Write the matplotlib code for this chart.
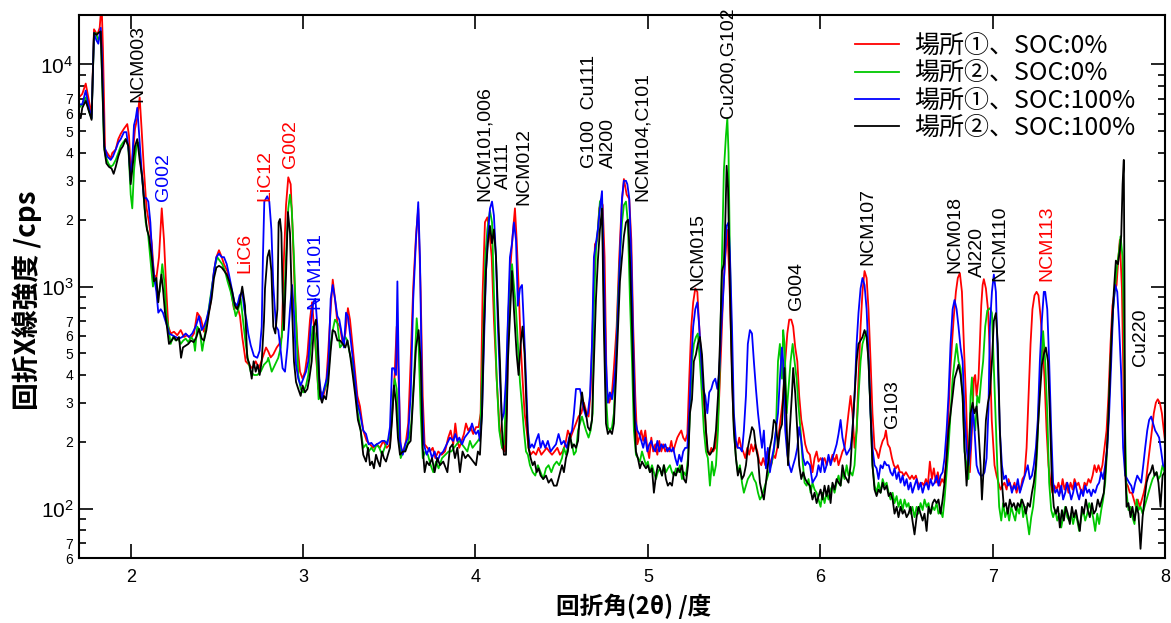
import numpy as np
import matplotlib
matplotlib.use("Agg")
import matplotlib.pyplot as plt
from matplotlib import font_manager as fm
from matplotlib.ticker import FixedLocator, FuncFormatter, NullFormatter

# ---------------- data (2theta [deg], intensity [cps]) ----------------
red_pts = [
(1.700,7106),(1.719,7366),(1.739,8206),(1.758,6855),(1.773,5936),(1.787,14400),(1.806,13600),(1.820,14630),(1.831,19000),(1.839,11750),
(1.851,4142),(1.864,3995),(1.884,3780),(1.893,3995),(1.913,4142),(1.928,4614),(1.942,4870),(1.961,5140),(1.980,5390),(1.990,4783),
(2.000,3300),(2.009,3718),(2.025,5140),(2.038,5726),(2.052,7106),(2.063,5140),(2.077,3337),(2.092,2250),(2.106,1945),(2.122,1567),
(2.135,1133),(2.149,1094),(2.164,1357),(2.180,2250),(2.193,1624),(2.207,947),(2.218,661),(2.232,615),(2.251,626),(2.270,604),
(2.290,637),(2.309,593),(2.328,604),(2.348,583),(2.367,615),(2.386,763),(2.406,723),(2.425,626),(2.444,710),(2.464,850),
(2.483,1175),(2.497,1357),(2.512,1458),(2.528,1357),(2.541,1262),(2.560,1175),(2.580,981),(2.599,791),(2.618,820),(2.634,736),
(2.647,593),(2.667,461),(2.686,445),(2.705,429),(2.725,461),(2.744,429),(2.785,532),(2.798,510),(2.812,480),(2.827,495),
(2.847,532),(2.862,552),(2.876,593),(2.889,1357),(2.901,2328),(2.914,3105),(2.928,2890),(2.939,1809),(2.953,881),(2.967,552),
(2.982,414),(2.997,385),(3.011,414),(3.025,495),(3.040,710),(3.052,850),(3.063,661),(3.075,495),(3.088,346),(3.104,334),
(3.117,322),(3.133,359),(3.146,514),(3.160,791),(3.172,1075),(3.185,881),(3.199,685),(3.214,661),(3.230,552),(3.245,615),
(3.260,800),(3.272,710),(3.288,532),(3.303,400),(3.315,322),(3.330,289),(3.349,225),(3.369,202),(3.388,195),(3.407,188),
(3.427,195),(3.446,188),(3.465,202),(3.485,188),(3.504,195),(3.520,289),(3.531,400),(3.543,661),(3.554,385),(3.566,188),
(3.581,181),(3.597,202),(3.610,242),(3.624,461),(3.639,1000),(3.655,1700),(3.668,2246),(3.682,947),(3.694,322),(3.705,195),
(3.721,188),(3.736,181),(3.752,188),(3.767,169),(3.784,181),(3.804,175),(3.823,181),(3.842,209),(3.856,225),(3.871,195),
(3.883,242),(3.895,202),(3.906,188),(3.920,202),(3.933,217),(3.945,242),(3.958,225),(3.972,233),(3.987,217),(4.003,233),
(4.018,233),(4.030,269),(4.041,913),(4.055,1950),(4.069,2050),(4.080,1809),(4.094,1357),(4.107,710),(4.123,385),(4.138,242),
(4.154,188),(4.169,181),(4.181,269),(4.192,763),(4.204,1262),(4.215,1684),(4.229,2250),(4.239,1624),(4.250,1017),(4.262,552),
(4.273,385),(4.285,269),(4.297,225),(4.308,188),(4.320,175),(4.335,181),(4.351,175),(4.366,188),(4.382,175),(4.397,181),
(4.413,188),(4.428,181),(4.444,175),(4.459,181),(4.475,188),(4.490,175),(4.505,181),(4.521,195),(4.536,225),(4.552,209),
(4.567,225),(4.583,242),(4.598,260),(4.614,269),(4.629,300),(4.645,269),(4.656,260),(4.668,334),(4.680,661),(4.693,1550),
(4.707,1624),(4.718,2250),(4.730,2414),(4.738,2328),(4.749,1357),(4.761,346),(4.776,300),(4.792,334),(4.803,429),(4.819,661),
(4.834,1357),(4.848,2328),(4.861,3050),(4.877,2594),(4.892,2480),(4.904,1624),(4.915,661),(4.927,322),(4.939,195),(4.950,209),
(4.962,225),(4.973,202),(4.985,225),(4.997,188),(5.008,169),(5.020,209),(5.031,181),(5.043,195),(5.055,175),(5.066,202),
(5.078,181),(5.089,195),(5.101,181),(5.113,188),(5.124,181),(5.136,202),(5.147,181),(5.159,195),(5.171,209),(5.182,217),
(5.194,225),(5.205,209),(5.217,202),(5.229,217),(5.240,385),(5.252,661),(5.263,850),(5.275,980),(5.287,947),(5.298,661),
(5.310,461),(5.321,322),(5.333,251),(5.345,181),(5.356,175),(5.368,188),(5.379,181),(5.391,188),(5.403,225),(5.414,322),
(5.426,552),(5.437,947),(5.449,1357),(5.461,1800),(5.472,1133),(5.484,552),(5.495,269),(5.507,202),(5.519,188),(5.530,209),
(5.542,188),(5.553,181),(5.565,169),(5.577,188),(5.588,175),(5.600,195),(5.611,181),(5.623,195),(5.635,181),(5.646,163),
(5.658,157),(5.669,169),(5.681,157),(5.693,181),(5.704,169),(5.716,157),(5.727,175),(5.739,169),(5.751,188),(5.762,225),
(5.774,269),(5.785,322),(5.797,461),(5.809,615),(5.820,710),(5.832,710),(5.843,661),(5.855,532),(5.867,461),(5.878,322),
(5.890,251),(5.901,225),(5.913,195),(5.925,181),(5.940,175),(5.955,146),(5.967,169),(5.979,181),(5.990,163),(6.002,169),
(6.013,163),(6.025,169),(6.037,157),(6.048,169),(6.060,163),(6.071,175),(6.083,163),(6.095,175),(6.106,157),(6.118,169),
(6.129,181),(6.141,188),(6.153,225),(6.164,269),(6.176,322),(6.187,269),(6.199,188),(6.211,225),(6.222,385),(6.234,661),
(6.245,947),(6.257,1175),(6.269,1093),(6.280,791),(6.292,461),(6.303,269),(6.315,188),(6.327,181),(6.338,169),(6.350,188),
(6.362,202),(6.373,209),(6.381,225),(6.392,195),(6.404,188),(6.416,169),(6.427,157),(6.439,152),(6.450,157),(6.462,146),
(6.474,146),(6.485,141),(6.497,146),(6.508,141),(6.520,136),(6.532,141),(6.543,136),(6.555,141),(6.566,131),(6.578,127),
(6.590,131),(6.601,127),(6.613,136),(6.624,127),(6.636,163),(6.648,136),(6.659,152),(6.671,131),(6.682,146),(6.694,127),
(6.706,136),(6.717,131),(6.729,157),(6.740,225),(6.752,385),(6.764,552),(6.775,736),(6.787,947),(6.798,1093),(6.810,1150),
(6.822,947),(6.833,552),(6.845,322),(6.857,157),(6.868,146),(6.880,225),(6.891,385),(6.899,400),(6.907,322),(6.918,385),
(6.926,552),(6.934,820),(6.942,1017),(6.949,1080),(6.961,981),(6.973,791),(6.984,500),(6.995,250),(7.011,157),(7.023,141),
(7.034,131),(7.046,122),(7.057,127),(7.069,131),(7.081,122),(7.092,136),(7.104,127),(7.115,122),(7.127,131),(7.139,118),
(7.150,127),(7.162,122),(7.173,136),(7.185,141),(7.197,188),(7.208,311),(7.220,552),(7.231,791),(7.243,913),(7.255,947),
(7.266,913),(7.278,736),(7.290,552),(7.301,385),(7.313,225),(7.324,157),(7.336,131),(7.347,118),(7.359,127),(7.371,122),
(7.382,131),(7.394,118),(7.406,136),(7.417,122),(7.429,131),(7.440,118),(7.452,131),(7.464,122),(7.475,136),(7.487,127),
(7.498,131),(7.510,122),(7.522,118),(7.533,131),(7.545,127),(7.556,136),(7.568,131),(7.580,141),(7.591,157),(7.603,146),
(7.614,157),(7.626,146),(7.637,157),(7.649,188),(7.661,225),(7.672,322),(7.684,552),(7.695,820),(7.707,947),(7.719,1017),
(7.730,1357),(7.738,1624),(7.750,981),(7.761,300),(7.773,131),(7.784,127),(7.796,118),(7.808,118),(7.819,110),(7.831,102),
(7.842,110),(7.854,102),(7.866,110),(7.877,118),(7.889,131),(7.900,157),(7.912,188),(7.924,225),(7.935,269),(7.947,300),
(7.958,311),(7.970,300),(7.982,269),(7.993,225),(8.005,188)]

green_pts = [
(1.700,6379),(1.719,6612),(1.739,7106),(1.758,6153),(1.773,5726),(1.787,13600),(1.797,13860),(1.812,12860),(1.826,13860),(1.835,8206),
(1.845,4293),(1.855,3854),(1.870,3586),(1.884,3460),(1.897,3523),(1.913,3718),(1.928,3995),(1.942,4293),(1.955,4451),(1.971,4614),
(1.986,4293),(2.000,2594),(2.009,2250),(2.019,3337),(2.033,4293),(2.044,4451),(2.058,3586),(2.071,2787),(2.087,1945),(2.100,1745),
(2.116,1290),(2.129,1000),(2.141,1093),(2.154,930),(2.168,947),(2.183,1262),(2.195,1055),(2.207,736),(2.218,661),(2.232,552),
(2.245,593),(2.261,572),(2.276,583),(2.290,552),(2.305,572),(2.319,583),(2.334,562),(2.350,593),(2.365,572),(2.373,514),
(2.386,661),(2.400,637),(2.415,514),(2.431,615),(2.444,710),(2.458,850),(2.473,1017),(2.489,1240),(2.502,1357),(2.516,1309),
(2.531,1262),(2.547,1175),(2.562,1055),(2.580,947),(2.593,850),(2.609,736),(2.624,791),(2.638,881),(2.651,710),(2.667,552),
(2.682,461),(2.696,414),(2.715,400),(2.734,400),(2.754,414),(2.773,445),(2.792,461),(2.798,478),(2.818,414),(2.837,445),
(2.856,478),(2.870,532),(2.885,710),(2.901,1357),(2.914,2246),(2.924,2594),(2.934,2246),(2.947,1357),(2.959,710),(2.972,400),
(2.986,346),(3.001,334),(3.017,359),(3.030,400),(3.044,532),(3.056,661),(3.067,615),(3.079,461),(3.090,311),(3.104,322),
(3.117,334),(3.133,359),(3.146,400),(3.160,552),(3.172,637),(3.185,710),(3.199,685),(3.214,532),(3.230,552),(3.245,593),
(3.257,572),(3.272,495),(3.288,445),(3.303,346),(3.318,269),(3.334,225),(3.349,188),(3.365,195),(3.380,181),(3.396,188),
(3.411,181),(3.427,195),(3.442,188),(3.458,175),(3.473,188),(3.489,202),(3.504,209),(3.520,300),(3.531,385),(3.543,346),
(3.554,225),(3.566,169),(3.581,181),(3.597,188),(3.612,202),(3.628,242),(3.643,385),(3.659,720),(3.670,552),(3.682,269),
(3.694,169),(3.709,181),(3.724,175),(3.740,157),(3.755,146),(3.771,163),(3.786,152),(3.806,169),(3.825,175),(3.844,181),
(3.860,181),(3.875,188),(3.891,195),(3.906,202),(3.922,195),(3.937,188),(3.953,181),(3.968,202),(3.983,188),(3.999,195),
(4.014,202),(4.026,209),(4.041,461),(4.057,1357),(4.069,1809),(4.084,2200),(4.096,1945),(4.107,947),(4.123,385),(4.138,225),
(4.154,188),(4.165,195),(4.177,311),(4.188,661),(4.200,1093),(4.212,1262),(4.223,1017),(4.235,791),(4.246,552),(4.258,372),
(4.270,289),(4.281,225),(4.293,181),(4.304,175),(4.316,157),(4.332,146),(4.347,141),(4.362,157),(4.378,146),(4.393,136),
(4.409,152),(4.424,157),(4.440,146),(4.455,157),(4.471,163),(4.486,157),(4.502,169),(4.513,188),(4.525,175),(4.536,188),
(4.548,209),(4.560,195),(4.571,175),(4.583,181),(4.595,225),(4.606,242),(4.618,260),(4.629,242),(4.641,225),(4.656,209),
(4.668,225),(4.680,269),(4.687,820),(4.699,1458),(4.710,1809),(4.722,2414),(4.734,2502),(4.745,881),(4.757,322),(4.768,233),
(4.780,225),(4.792,233),(4.803,269),(4.815,461),(4.827,881),(4.838,1357),(4.850,1945),(4.861,2328),(4.873,2414),(4.884,1945),
(4.896,881),(4.908,461),(4.919,225),(4.931,175),(4.942,169),(4.954,163),(4.966,181),(4.977,169),(4.989,157),(5.000,163),
(5.012,146),(5.024,157),(5.035,146),(5.047,136),(5.058,146),(5.070,152),(5.082,141),(5.093,157),(5.105,146),(5.116,152),
(5.128,157),(5.140,146),(5.151,141),(5.163,152),(5.174,146),(5.186,157),(5.198,136),(5.209,146),(5.221,141),(5.233,169),
(5.244,269),(5.256,461),(5.267,552),(5.279,593),(5.290,615),(5.302,461),(5.314,322),(5.325,225),(5.337,181),(5.348,169),
(5.360,127),(5.372,163),(5.383,141),(5.395,157),(5.407,225),(5.418,461),(5.430,1357),(5.441,3337),(5.453,4783),(5.461,5726),
(5.468,3995),(5.476,1357),(5.488,461),(5.499,225),(5.511,169),(5.522,146),(5.534,157),(5.546,131),(5.557,118),(5.569,127),
(5.580,136),(5.592,141),(5.604,146),(5.615,136),(5.627,131),(5.639,118),(5.650,110),(5.662,114),(5.673,122),(5.685,131),
(5.696,141),(5.708,152),(5.720,163),(5.731,181),(5.743,225),(5.755,461),(5.766,552),(5.778,385),(5.785,637),(5.793,552),
(5.805,269),(5.816,346),(5.828,461),(5.840,552),(5.851,461),(5.863,385),(5.874,289),(5.886,225),(5.898,163),(5.909,131),
(5.921,127),(5.932,136),(5.944,118),(5.955,131),(5.967,122),(5.979,118),(5.990,110),(6.002,102),(6.013,118),(6.025,106),
(6.037,118),(6.048,110),(6.060,122),(6.071,127),(6.083,118),(6.095,131),(6.106,141),(6.118,127),(6.129,146),(6.141,136),
(6.153,157),(6.164,141),(6.176,146),(6.187,141),(6.199,157),(6.211,225),(6.222,322),(6.234,461),(6.245,552),(6.257,593),
(6.269,630),(6.280,461),(6.292,269),(6.303,157),(6.315,127),(6.327,118),(6.338,131),(6.350,118),(6.362,136),(6.373,127),
(6.385,131),(6.397,118),(6.408,110),(6.420,118),(6.431,106),(6.443,114),(6.454,102),(6.466,110),(6.478,98.6),(6.489,110),
(6.501,102),(6.512,106),(6.524,95),(6.535,102),(6.547,91.6),(6.559,102),(6.570,95),(6.582,106),(6.594,98.6),(6.605,110),
(6.617,102),(6.628,106),(6.640,95),(6.652,102),(6.663,98.6),(6.675,106),(6.686,95),(6.698,98.6),(6.710,91.6),(6.721,110),
(6.733,146),(6.744,188),(6.756,269),(6.768,385),(6.779,461),(6.791,552),(6.802,461),(6.814,429),(6.826,322),(6.837,181),
(6.849,157),(6.860,136),(6.872,322),(6.880,390),(6.887,269),(6.899,225),(6.911,322),(6.922,300),(6.934,385),(6.945,461),
(6.957,661),(6.969,780),(6.985,800),(6.996,760),(7.013,322),(7.027,157),(7.038,102),(7.050,88.4),(7.061,106),(7.073,91.6),
(7.085,98.6),(7.096,88.4),(7.108,102),(7.119,95),(7.131,88.4),(7.143,102),(7.154,95),(7.166,110),(7.177,91.6),(7.189,102),
(7.201,88.4),(7.212,76.6),(7.224,91.6),(7.235,102),(7.247,127),(7.259,188),(7.270,322),(7.282,461),(7.293,630),(7.305,461),
(7.317,269),(7.328,131),(7.340,98.6),(7.351,91.6),(7.363,98.6),(7.375,88.4),(7.386,95),(7.398,82.3),(7.409,91.6),(7.421,102),
(7.433,91.6),(7.444,88.4),(7.456,95),(7.467,85.3),(7.479,95),(7.491,88.4),(7.502,79.4),(7.514,91.6),(7.525,98.6),(7.537,88.4),
(7.549,95),(7.560,106),(7.572,98.6),(7.583,91.6),(7.595,79.4),(7.607,95),(7.618,85.3),(7.630,98.6),(7.641,110),(7.653,131),
(7.665,188),(7.676,322),(7.688,552),(7.699,791),(7.711,1017),(7.723,1262),(7.734,1458),(7.742,1684),(7.754,1357),(7.761,661),
(7.769,225),(7.777,118),(7.788,98.6),(7.800,102),(7.811,91.6),(7.823,85.3),(7.835,110),(7.846,98.6),(7.858,102),(7.870,95),
(7.881,102),(7.893,110),(7.904,118),(7.916,127),(7.928,136),(7.939,141),(7.951,146),(7.962,136),(7.974,141),(7.986,157),
(7.997,146),(8.005,150)]

blue_pts = [
(1.700,6612),(1.719,6612),(1.739,7636),(1.758,6379),(1.773,5726),(1.787,13860),(1.801,12860),(1.812,12400),(1.826,14630),(1.835,10000),
(1.847,4293),(1.864,3854),(1.884,3718),(1.897,3854),(1.913,4142),(1.928,4451),(1.942,4614),(1.961,4958),(1.975,4958),(1.990,3995),
(2.000,3000),(2.009,3718),(2.019,5328),(2.029,5726),(2.038,6379),(2.048,4958),(2.063,3337),(2.077,2502),(2.091,2502),(2.102,2414),
(2.114,1945),(2.125,1357),(2.137,1093),(2.149,947),(2.160,763),(2.174,791),(2.187,763),(2.199,710),(2.212,661),(2.222,615),
(2.241,604),(2.261,593),(2.280,583),(2.299,593),(2.319,615),(2.338,593),(2.357,615),(2.377,661),(2.396,736),(2.412,637),
(2.425,661),(2.439,710),(2.454,791),(2.469,947),(2.483,1175),(2.497,1357),(2.512,1406),(2.528,1357),(2.541,1357),(2.557,1262),
(2.570,1133),(2.586,981),(2.601,850),(2.618,820),(2.632,913),(2.647,947),(2.659,791),(2.671,710),(2.682,615),(2.696,545),
(2.715,487),(2.734,478),(2.748,514),(2.760,661),(2.767,1357),(2.775,2414),(2.792,2550),(2.804,2414),(2.816,1809),(2.827,1017),
(2.843,661),(2.856,637),(2.870,514),(2.881,429),(2.895,414),(2.909,532),(2.924,791),(2.936,1017),(2.947,763),(2.959,445),
(2.972,385),(2.986,359),(3.001,385),(3.017,414),(3.030,461),(3.044,661),(3.059,850),(3.071,881),(3.083,661),(3.094,385),
(3.108,311),(3.121,346),(3.137,385),(3.148,461),(3.160,881),(3.172,1017),(3.185,881),(3.199,736),(3.210,710),(3.224,615),
(3.237,532),(3.249,763),(3.260,736),(3.272,615),(3.288,478),(3.303,372),(3.315,300),(3.330,269),(3.349,225),(3.365,217),
(3.380,195),(3.396,198),(3.411,191),(3.427,195),(3.442,198),(3.458,202),(3.473,202),(3.489,195),(3.504,233),(3.516,429),
(3.527,429),(3.539,400),(3.547,1055),(3.554,461),(3.562,202),(3.578,175),(3.593,195),(3.608,209),(3.624,322),(3.639,881),
(3.655,1624),(3.668,2400),(3.678,1357),(3.690,322),(3.701,195),(3.717,175),(3.732,188),(3.748,169),(3.763,181),(3.779,163),
(3.794,175),(3.813,181),(3.833,195),(3.852,209),(3.871,202),(3.883,217),(3.895,202),(3.906,209),(3.922,195),(3.937,209),
(3.953,217),(3.968,225),(3.980,242),(3.991,225),(4.003,217),(4.016,225),(4.026,202),(4.038,269),(4.049,552),(4.061,1175),
(4.072,1684),(4.084,2246),(4.096,2414),(4.107,2090),(4.119,1357),(4.130,661),(4.142,385),(4.154,251),(4.165,269),(4.177,385),
(4.188,710),(4.200,1357),(4.212,1567),(4.223,1945),(4.235,1624),(4.246,820),(4.258,981),(4.270,1017),(4.281,661),(4.293,385),
(4.304,225),(4.316,188),(4.328,195),(4.339,188),(4.351,202),(4.366,217),(4.378,188),(4.390,202),(4.405,188),(4.420,202),
(4.436,181),(4.451,188),(4.467,195),(4.482,217),(4.498,195),(4.513,202),(4.529,188),(4.544,209),(4.560,225),(4.571,269),
(4.583,346),(4.595,346),(4.606,346),(4.618,311),(4.629,279),(4.641,260),(4.652,269),(4.664,322),(4.676,552),(4.687,1357),
(4.699,1567),(4.710,1809),(4.722,2246),(4.734,2689),(4.745,1175),(4.757,461),(4.768,300),(4.780,334),(4.792,311),(4.803,359),
(4.815,461),(4.827,791),(4.838,1357),(4.850,2502),(4.861,2995),(4.873,2995),(4.881,2890),(4.892,2502),(4.904,1357),(4.915,552),
(4.927,251),(4.939,225),(4.950,217),(4.962,202),(4.973,188),(4.985,209),(4.997,181),(5.008,195),(5.020,202),(5.031,188),
(5.043,181),(5.055,202),(5.066,181),(5.078,195),(5.089,188),(5.101,195),(5.113,181),(5.124,188),(5.136,181),(5.147,188),
(5.159,169),(5.171,157),(5.182,175),(5.194,163),(5.205,181),(5.217,188),(5.229,188),(5.240,269),(5.252,461),(5.263,661),
(5.275,791),(5.287,850),(5.298,661),(5.310,461),(5.321,346),(5.333,322),(5.345,269),(5.356,334),(5.368,346),(5.379,372),
(5.391,385),(5.403,346),(5.414,414),(5.426,661),(5.437,913),(5.449,1406),(5.457,1876),(5.468,1945),(5.476,1406),(5.488,661),
(5.499,269),(5.511,202),(5.522,188),(5.534,188),(5.546,181),(5.557,225),(5.569,322),(5.580,552),(5.592,637),(5.604,615),
(5.615,461),(5.627,346),(5.639,269),(5.650,225),(5.662,188),(5.673,225),(5.685,152),(5.696,188),(5.708,146),(5.720,169),
(5.731,188),(5.743,225),(5.755,269),(5.766,385),(5.778,532),(5.785,461),(5.797,225),(5.809,175),(5.820,157),(5.832,146),
(5.843,157),(5.855,169),(5.867,188),(5.878,233),(5.890,202),(5.901,169),(5.913,157),(5.925,163),(5.940,157),(5.955,131),
(5.967,136),(5.979,141),(5.990,157),(6.002,146),(6.013,169),(6.025,146),(6.037,157),(6.048,175),(6.060,157),(6.071,169),
(6.083,181),(6.095,195),(6.106,217),(6.118,251),(6.129,209),(6.141,188),(6.153,175),(6.164,181),(6.176,188),(6.187,225),
(6.199,322),(6.211,552),(6.222,763),(6.234,981),(6.245,1093),(6.257,1017),(6.269,791),(6.280,495),(6.292,269),(6.303,188),
(6.315,157),(6.327,152),(6.338,136),(6.350,157),(6.362,152),(6.373,163),(6.385,157),(6.397,157),(6.408,146),(6.420,141),
(6.431,152),(6.443,136),(6.454,146),(6.466,131),(6.478,141),(6.489,127),(6.501,136),(6.512,122),(6.524,131),(6.535,118),
(6.547,127),(6.559,136),(6.570,122),(6.582,131),(6.594,118),(6.605,127),(6.617,131),(6.628,122),(6.640,136),(6.652,127),
(6.663,131),(6.675,141),(6.686,127),(6.698,141),(6.710,146),(6.721,169),(6.733,225),(6.744,322),(6.756,552),(6.768,791),
(6.779,870),(6.791,791),(6.802,661),(6.814,532),(6.826,461),(6.837,269),(6.849,188),(6.860,157),(6.872,188),(6.884,290),
(6.895,225),(6.907,157),(6.918,146),(6.930,141),(6.942,141),(6.953,146),(6.965,169),(6.976,280),(6.984,661),(6.996,947),
(7.007,1133),(7.019,947),(7.030,461),(7.042,225),(7.054,157),(7.065,136),(7.077,141),(7.088,127),(7.100,131),(7.112,118),
(7.123,127),(7.135,122),(7.146,136),(7.158,118),(7.170,127),(7.181,136),(7.193,146),(7.204,157),(7.216,136),(7.228,141),
(7.239,157),(7.251,188),(7.262,251),(7.274,461),(7.286,710),(7.297,947),(7.305,947),(7.317,791),(7.328,461),(7.340,225),
(7.351,131),(7.363,118),(7.375,122),(7.386,114),(7.398,127),(7.409,110),(7.421,118),(7.433,131),(7.444,122),(7.456,110),
(7.467,118),(7.479,131),(7.491,118),(7.502,110),(7.514,122),(7.525,114),(7.537,127),(7.549,118),(7.560,122),(7.572,114),
(7.583,122),(7.595,118),(7.607,127),(7.618,131),(7.630,146),(7.641,136),(7.653,157),(7.665,188),(7.676,269),(7.688,461),
(7.699,791),(7.711,1017),(7.723,947),(7.734,661),(7.746,400),(7.757,188),(7.769,141),(7.781,136),(7.792,131),(7.804,127),
(7.815,118),(7.827,131),(7.839,141),(7.850,136),(7.862,131),(7.874,157),(7.885,188),(7.897,225),(7.908,251),(7.920,260),
(7.931,242),(7.943,225),(7.955,217),(7.966,209),(7.978,181),(7.989,157),(8.001,152)]

black_pts = [
(1.700,5936),(1.710,5726),(1.719,6379),(1.739,6855),(1.758,6153),(1.773,5630),(1.787,13860),(1.801,13600),(1.812,13860),(1.826,14100),
(1.835,8206),(1.847,4142),(1.859,3586),(1.874,3460),(1.889,3400),(1.901,3219),(1.913,3460),(1.928,3854),(1.942,4142),(1.955,4293),
(1.971,4614),(1.986,4293),(2.000,2890),(2.013,3586),(2.025,4293),(2.038,4614),(2.052,3718),(2.067,3105),(2.081,2246),(2.094,1809),
(2.106,1684),(2.122,1357),(2.135,1055),(2.149,1093),(2.160,850),(2.168,981),(2.178,1133),(2.187,981),(2.199,763),(2.210,661),
(2.222,552),(2.237,572),(2.251,593),(2.265,572),(2.280,593),(2.292,478),(2.303,532),(2.319,542),(2.334,552),(2.350,572),
(2.365,562),(2.381,593),(2.396,645),(2.412,583),(2.425,572),(2.439,637),(2.454,763),(2.469,881),(2.483,1093),(2.497,1218),
(2.512,1240),(2.528,1218),(2.543,1175),(2.557,1133),(2.572,1055),(2.589,947),(2.605,820),(2.618,791),(2.632,850),(2.647,1000),
(2.663,820),(2.676,478),(2.690,445),(2.702,385),(2.713,461),(2.725,414),(2.736,445),(2.748,400),(2.760,461),(2.773,700),
(2.779,981),(2.793,1357),(2.804,1458),(2.816,1175),(2.827,661),(2.839,615),(2.851,791),(2.858,1945),(2.866,2016),(2.874,1745),
(2.881,947),(2.889,637),(2.901,1133),(2.912,2166),(2.924,1745),(2.936,791),(2.947,461),(2.959,372),(2.972,346),(2.986,322),
(2.997,359),(3.011,334),(3.025,346),(3.036,385),(3.050,461),(3.063,661),(3.075,710),(3.086,514),(3.098,322),(3.110,300),
(3.121,322),(3.133,311),(3.146,372),(3.160,514),(3.172,637),(3.185,626),(3.199,572),(3.214,572),(3.230,552),(3.245,532),
(3.257,572),(3.272,495),(3.288,400),(3.303,322),(3.318,251),(3.334,225),(3.349,175),(3.365,163),(3.377,188),(3.388,157),
(3.400,163),(3.411,152),(3.423,175),(3.435,163),(3.446,155),(3.458,181),(3.469,169),(3.481,163),(3.492,175),(3.504,188),
(3.516,251),(3.527,359),(3.539,300),(3.550,209),(3.562,175),(3.578,181),(3.593,181),(3.608,195),(3.624,202),(3.639,322),
(3.655,532),(3.670,637),(3.682,461),(3.694,188),(3.705,146),(3.717,163),(3.732,157),(3.748,169),(3.763,146),(3.779,169),
(3.794,157),(3.813,163),(3.837,146),(3.852,188),(3.867,195),(3.881,169),(3.895,188),(3.910,146),(3.925,181),(3.941,169),
(3.956,175),(3.972,169),(3.987,163),(4.003,157),(4.014,181),(4.026,175),(4.038,269),(4.049,637),(4.061,1175),(4.072,1567),
(4.084,1876),(4.096,1567),(4.107,1809),(4.119,1357),(4.130,791),(4.142,461),(4.154,225),(4.165,175),(4.177,175),(4.188,461),
(4.200,736),(4.212,1175),(4.223,791),(4.239,495),(4.250,400),(4.262,552),(4.273,661),(4.285,495),(4.297,269),(4.308,188),
(4.320,169),(4.332,157),(4.343,163),(4.355,146),(4.366,152),(4.378,141),(4.393,136),(4.409,141),(4.424,131),(4.440,136),
(4.455,127),(4.471,127),(4.486,141),(4.502,157),(4.513,146),(4.525,169),(4.536,181),(4.548,217),(4.560,188),(4.571,195),
(4.583,188),(4.595,202),(4.606,269),(4.618,334),(4.629,289),(4.641,269),(4.652,233),(4.664,225),(4.676,251),(4.687,461),
(4.699,881),(4.710,1309),(4.722,1809),(4.734,2246),(4.745,637),(4.757,242),(4.768,217),(4.780,225),(4.792,217),(4.803,242),
(4.815,385),(4.827,661),(4.838,1055),(4.850,1357),(4.861,1684),(4.873,1945),(4.885,2000),(4.896,1357),(4.908,661),(4.919,300),
(4.931,181),(4.942,169),(4.954,152),(4.966,163),(4.977,157),(4.989,152),(5.000,157),(5.012,146),(5.024,152),(5.035,118),
(5.047,141),(5.058,157),(5.070,152),(5.082,141),(5.093,157),(5.105,136),(5.116,127),(5.128,131),(5.140,127),(5.151,146),
(5.163,141),(5.174,152),(5.186,146),(5.198,157),(5.209,136),(5.221,131),(5.233,157),(5.244,269),(5.256,311),(5.267,461),
(5.279,495),(5.290,552),(5.302,593),(5.314,495),(5.325,346),(5.337,225),(5.348,181),(5.360,175),(5.372,181),(5.383,188),
(5.395,225),(5.407,322),(5.418,552),(5.430,1175),(5.441,1262),(5.449,1945),(5.457,3500),(5.465,2787),(5.476,981),(5.488,385),
(5.499,225),(5.511,169),(5.522,141),(5.534,152),(5.546,136),(5.557,141),(5.569,157),(5.580,188),(5.592,209),(5.604,233),
(5.615,225),(5.627,188),(5.639,169),(5.650,131),(5.662,118),(5.673,110),(5.685,131),(5.696,157),(5.708,188),(5.720,209),
(5.731,251),(5.743,242),(5.755,188),(5.766,225),(5.778,240),(5.793,430),(5.801,300),(5.813,157),(5.824,230),(5.836,330),
(5.843,430),(5.855,330),(5.867,225),(5.878,157),(5.890,136),(5.901,146),(5.913,136),(5.925,131),(5.940,127),(5.955,110),
(5.967,118),(5.979,106),(5.990,114),(6.002,122),(6.013,110),(6.025,127),(6.037,114),(6.048,127),(6.060,106),(6.071,131),
(6.083,122),(6.095,136),(6.106,131),(6.118,127),(6.129,157),(6.141,141),(6.153,136),(6.164,131),(6.176,157),(6.187,225),
(6.199,322),(6.211,461),(6.222,552),(6.234,572),(6.245,593),(6.257,637),(6.269,593),(6.280,461),(6.292,269),(6.303,157),
(6.315,122),(6.327,114),(6.338,122),(6.350,118),(6.362,131),(6.373,122),(6.385,127),(6.397,114),(6.408,118),(6.420,110),
(6.431,95),(6.443,102),(6.454,91.6),(6.466,102),(6.478,95),(6.489,98.6),(6.501,91.6),(6.512,95),(6.524,102),(6.535,88.4),
(6.547,76.6),(6.559,91.6),(6.570,102),(6.582,95),(6.594,88.4),(6.605,95),(6.617,79.4),(6.628,102),(6.640,95),(6.652,106),
(6.663,110),(6.675,106),(6.686,110),(6.698,95),(6.710,110),(6.721,131),(6.733,169),(6.744,225),(6.756,269),(6.768,322),
(6.779,385),(6.791,414),(6.802,445),(6.814,400),(6.826,322),(6.837,188),(6.849,127),(6.860,169),(6.872,269),(6.884,300),
(6.895,269),(6.907,289),(6.918,225),(6.930,157),(6.938,110),(6.949,157),(6.961,250),(6.973,300),(6.984,330),(6.996,460),
(7.007,700),(7.019,760),(7.030,552),(7.042,225),(7.054,131),(7.065,102),(7.077,106),(7.088,95),(7.100,110),(7.112,102),
(7.123,106),(7.135,98.6),(7.146,106),(7.158,102),(7.170,110),(7.181,104),(7.193,95),(7.204,106),(7.216,102),(7.228,118),
(7.239,131),(7.251,157),(7.262,225),(7.274,322),(7.286,445),(7.297,495),(7.309,532),(7.321,461),(7.332,269),(7.344,131),
(7.355,102),(7.367,95),(7.379,102),(7.390,82.3),(7.402,98.6),(7.413,88.4),(7.425,102),(7.436,95),(7.448,85.3),(7.460,102),
(7.471,91.6),(7.483,98.6),(7.494,88.4),(7.506,79.4),(7.518,102),(7.529,95),(7.541,110),(7.552,98.6),(7.564,91.6),(7.576,106),
(7.587,95),(7.599,98.6),(7.610,110),(7.622,102),(7.634,110),(7.645,118),(7.657,157),(7.669,225),(7.680,385),(7.692,661),
(7.703,947),(7.715,1309),(7.727,1262),(7.738,1458),(7.746,1684),(7.754,2890),(7.761,3718),(7.765,950),(7.769,157),(7.777,102),
(7.788,106),(7.800,91.6),(7.811,102),(7.823,88.4),(7.835,102),(7.846,95),(7.858,66),(7.870,91.6),(7.881,110),(7.893,131),
(7.904,141),(7.916,146),(7.928,157),(7.939,141),(7.951,146),(7.962,131),(7.974,102),(7.986,141),(7.997,146),(8.005,140)]

series_labels = ["場所①、SOC:0%", "場所②、SOC:0%", "場所①、SOC:100%", "場所②、SOC:100%"]
series_colors = ["#ff0000", "#00c800", "#0000ff", "#000000"]

# peak annotations: (label, 2theta, bottom-of-text intensity, colour)
peak_labels = [
    ("NCM003", 2.04, 6800, "black"),
    ("G002", 2.19, 2440, "#0000ff"),
    ("LiC6", 2.663, 1146, "#ff0000"),
    ("LiC12", 2.779, 2440, "#ff0000"),
    ("G002", 2.926, 3436, "#ff0000"),
    ("NCM101", 3.07, 795, "#0000ff"),
    ("NCM101,006", 4.05, 2440, "black"),
    ("Al111", 4.165, 2760, "black"),
    ("NCM012", 4.282, 2340, "black"),
    ("G100  Cu111", 4.662, 3436, "black"),
    ("Al200", 4.77, 3436, "black"),
    ("NCM104,C101", 4.966, 2440, "black"),
    ("NCM015", 5.292, 968, "black"),
    ("Cu200,G102", 5.466, 5770, "black"),
    ("G004", 5.863, 787, "black"),
    ("NCM107", 6.277, 1256, "black"),
    ("G103", 6.422, 232, "black"),
    ("NCM018", 6.782, 1146, "black"),
    ("Al220", 6.91, 1110, "black"),
    ("NCM110", 7.043, 1055, "black"),
    ("NCM113", 7.315, 1055, "#ff0000"),
    ("Cu220", 7.855, 440, "black"),
]

x_ticks = [2, 3, 4, 5, 6, 7, 8]

# ---------------- fonts ----------------
names = {f.name for f in fm.fontManager.ttflist}
if "Liberation Sans Narrow" in names:
    narrow = "Liberation Sans Narrow"; ann_size = 16; tick_size = 15
else:
    narrow = "Liberation Sans"; ann_size = 14; tick_size = 13
cjk = ["Noto Sans CJK JP", "DejaVu Sans"]
plt.rcParams["mathtext.fontset"] = "custom"
plt.rcParams["mathtext.rm"] = narrow
plt.rcParams["mathtext.it"] = narrow
plt.rcParams["mathtext.bf"] = narrow

W, H = 1171, 623
fig = plt.figure(figsize=(W / 100, H / 100), dpi=100)
L, R, T, B = 79, 1165, 15, 558
ax = fig.add_axes([L / W, (H - B) / H, (R - L) / W, (B - T) / H])

handles = []
for pts, lab, col in zip([red_pts, green_pts, blue_pts, black_pts], series_labels, series_colors):
    arr = np.array(pts)
    h, = ax.plot(arr[:, 0], arr[:, 1], color=col, lw=1.3, label=lab)
    handles.append(h)

ax.set_yscale("log")
ax.set_xlim(1.7, 8)
ax.set_ylim(60, 1.67e4)

ax.set_xticks(x_ticks)
ax.set_xticklabels([str(v) for v in x_ticks], fontfamily=narrow, fontsize=tick_size)
ax.set_yticks([1e2, 1e3, 1e4])
ax.set_yticklabels([r"$10^{2}$", r"$10^{3}$", r"$10^{4}$"], fontsize=tick_size + 2)
minor = [m * 10 ** k for k in range(1, 5) for m in range(2, 10)]
ax.yaxis.set_minor_locator(FixedLocator(minor))

def minor_fmt(v, pos):
    m = int(round(v / 10 ** np.floor(np.log10(v) + 1e-9)))
    return str(m) if 2 <= m <= 7 else ""

ax.yaxis.set_minor_formatter(FuncFormatter(minor_fmt))
ax.xaxis.set_minor_formatter(NullFormatter())
for lab in ax.yaxis.get_minorticklabels():
    lab.set_fontsize(10)
    lab.set_fontfamily(narrow)
ax.tick_params(which="both", direction="in", top=True, right=True, width=1.2)
ax.tick_params(which="major", length=10)
ax.tick_params(which="minor", length=5, labelsize=10)
ax.tick_params(axis="x", pad=8)
ax.tick_params(axis="y", which="both", pad=4)
for s in ax.spines.values():
    s.set_linewidth(1.5)

ax.set_xlabel("回折角(2θ) /度", fontfamily=cjk, fontsize=17, fontweight="bold")
ax.xaxis.set_label_coords((634 - L) / (R - L), (B - 594) / (B - T))
ax.set_ylabel("回折X線強度 /cps", fontfamily=cjk, fontsize=20, fontweight="bold")
ax.yaxis.set_label_coords((42 - L) / (R - L), (B - 300) / (B - T))

for text, xv, yv, col in peak_labels:
    ax.text(xv, yv, text, rotation=90, ha="center", va="bottom", color=col,
            fontfamily=narrow, fontsize=ann_size)

leg = ax.legend(handles=handles, loc="upper left",
                bbox_to_anchor=((855 - L) / (R - L), (B - 33) / (B - T)),
                frameon=False, prop={"family": cjk, "size": 18},
                handlelength=1.75, handletextpad=0.6, labelspacing=0.05,
                borderpad=0, borderaxespad=0)
for line in leg.get_lines():
    line.set_linewidth(1.3)

fig.savefig("out.png", dpi=100)
